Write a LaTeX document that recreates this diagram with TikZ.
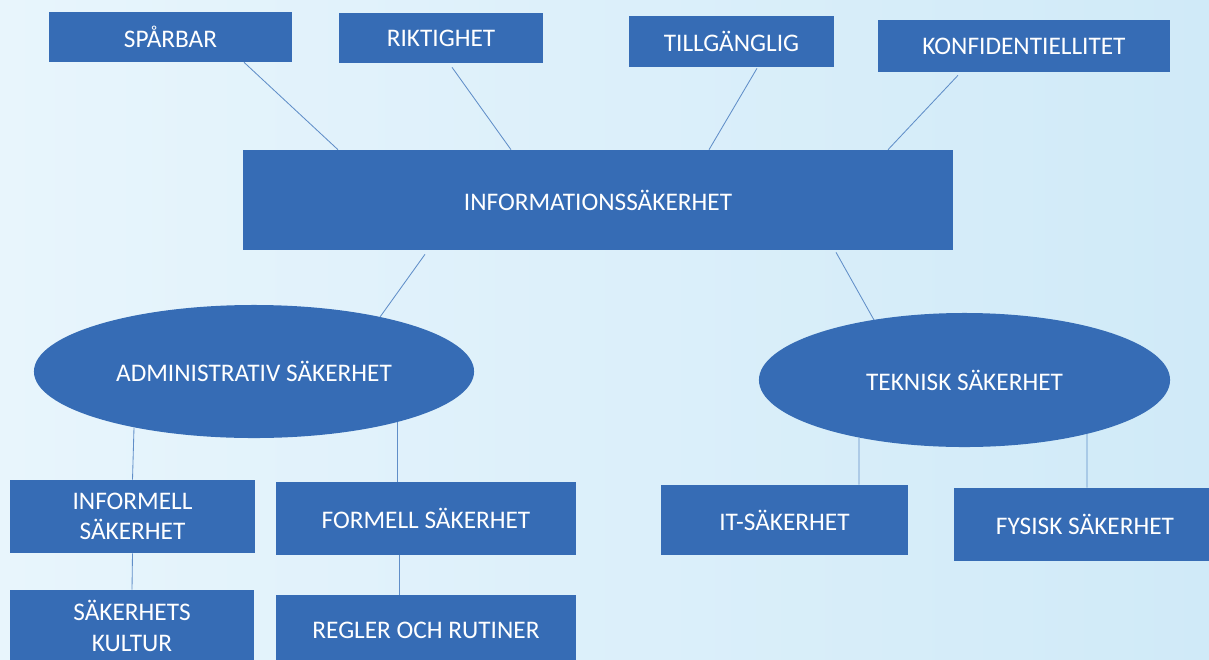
\documentclass[tikz,border=0pt]{standalone}
\usepackage{fontspec}
\setmainfont{Carlito}
\usetikzlibrary{shapes.geometric,calc}
\definecolor{skyback}{RGB}{208,234,248}
\definecolor{skybackl}{RGB}{232,245,252}
\definecolor{boxblue}{RGB}{54,108,181}
\definecolor{linkblue}{RGB}{96,142,200}

\tikzset{
  infobox/.style={fill=boxblue,text=white,inner sep=2pt,align=center,
    font=\fontsize{18}{21.5}\selectfont},
  infoell/.style={infobox,ellipse},
  link/.style={draw=linkblue,line width=0.6pt}
}

\begin{document}
\begin{tikzpicture}[x=0.025cm,y=-0.025cm]
\useasboundingbox (0,0) rectangle (1209,659);
\clip (0,0) rectangle (1209,659);
\shade [left color=skybackl,right color=skyback] (0,0) rectangle (1209,659);

% top row
\node [infobox,minimum width=6.075cm,minimum height=1.25cm] (spar) at (170.5,37) {SPÅRBAR};
\node [infobox,minimum width=5.1cm,minimum height=1.25cm] (rikt) at (441,38) {RIKTIGHET};
\node [infobox,minimum width=5.125cm,minimum height=1.275cm] (tillg) at (731.5,41.5) {TILLGÄNGLIG};
\node [infobox,minimum width=7.3cm,minimum height=1.3cm] (konf) at (1024,46) {KONFIDENTIELLITET};

\node [infobox,minimum width=17.75cm,minimum height=2.5cm] (infosak) at (598,200) {INFORMATIONSSÄKERHET};

% middle
\node [infoell,minimum width=11cm,minimum height=3.325cm] (admin) at (254,371.5) {ADMINISTRATIV SÄKERHET};
\node [infoell,minimum width=10.275cm,minimum height=3.35cm] (teknisk) at (964.5,380) {TEKNISK SÄKERHET};

% bottom
\node [infobox,minimum width=6.125cm,minimum height=1.825cm] (informell) at (132.5,516.5) {INFORMELL\\SÄKERHET};
\node [infobox,minimum width=7.5cm,minimum height=1.825cm] (formell) at (426,518.5) {FORMELL SÄKERHET};
\node [infobox,minimum width=6.1cm,minimum height=1.8cm] (kultur) at (132,626) {SÄKERHETS\\KULTUR};
\node [infobox,minimum width=7.5cm,minimum height=1.75cm] (regler) at (426,630) {REGLER OCH RUTINER};
\node [infobox,minimum width=6.175cm,minimum height=1.75cm] (itsak) at (784.5,520) {IT-SÄKERHET};
\node [infobox,minimum width=6.55cm,minimum height=1.825cm] (fysisk) at (1085,524.5) {FYSISK SÄKERHET};

% connectors
\draw [link] ($(spar.south)+(73.5,0)$) -- ($(infosak.north)+(-260,0)$);
\draw [link] ($(rikt.south)+(11,4)$) -- ($(infosak.north)+(-87,0)$);
\draw [link] ($(tillg.south)+(25.5,1)$) -- ($(infosak.north)+(111,0)$);
\draw [link] ($(konf.south)+(-66,3)$) -- ($(infosak.north)+(290,0)$);
\draw [link] ($(infosak.south)+(-173,4)$) -- ($(admin.center)+(126,-54.5)$);
\draw [link] ($(infosak.south)+(238,2)$) -- ($(teknisk.center)+(-90.5,-60)$);
\draw [link] ($(admin.center)+(-120,56)$) -- (informell.north);
\draw [link] ($(admin.center)+(143,50.5)$) -- ($(formell.north)+(-29,0)$);
\draw [link] (informell.south) -- (kultur.north);
\draw [link] ($(formell.south)+(-27,0)$) -- ($(regler.north)+(-27,0)$);
\draw [link] ($(teknisk.center)+(-105.5,57.5)$) -- ($(itsak.north)+(74.5,0)$);
\draw [link] ($(teknisk.center)+(122.5,53.8)$) -- ($(fysisk.north)+(2,0)$);
\end{tikzpicture}
\end{document}
